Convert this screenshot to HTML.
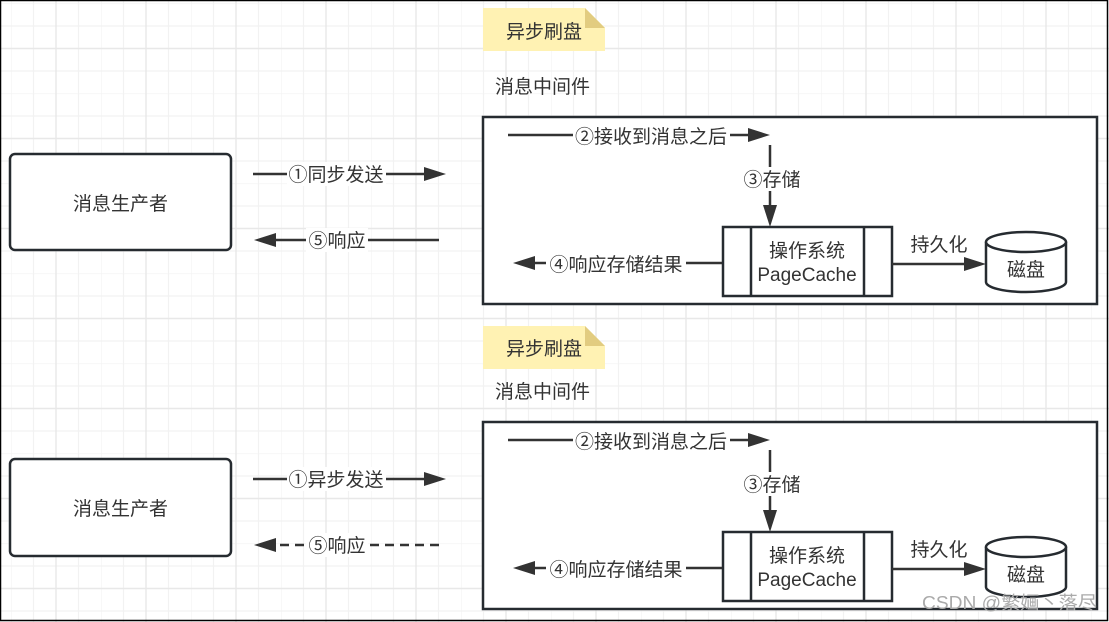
<!DOCTYPE html>
<html><head><meta charset="utf-8"><style>
html,body{margin:0;padding:0;background:#fff}
svg{display:block}
text{font-family:"Liberation Sans","Noto Sans CJK SC",sans-serif;fill:#333}
</style></head><body>
<svg width="1109" height="622" viewBox="0 0 1109 622" xmlns="http://www.w3.org/2000/svg">
<defs>
<pattern id="g" patternUnits="userSpaceOnUse" x="11" y="3.5" width="90" height="90">
<path d="M0 0V90M22.5 0V90M67.5 0V90M0 0H90M0 22.5H90M0 67.5H90" stroke="#f2f2f2" stroke-width="1.2" fill="none"/>
<path d="M45 0V90M0 45H90" stroke="#e8e8e8" stroke-width="1.4" fill="none"/>
</pattern>
</defs>
<rect width="1109" height="622" fill="url(#g)"/>
<rect x="0.5" y="0.5" width="1107" height="620" fill="none" stroke="#000" stroke-width="1.5"/>

<g id="p1">
<path d="M483 8H585L605 28V51H483Z" fill="#fff2b3"/>
<path d="M585 8L605 28H585Z" fill="#e2cc80"/>
<text x="544" y="38" font-size="19" text-anchor="middle">异步刷盘</text>
<text x="495" y="93" font-size="19">消息中间件</text>
<rect x="483" y="117" width="614" height="187" fill="#fff" stroke="#262b30" stroke-width="2.5"/>
<rect x="10" y="154" width="221" height="96" rx="5" fill="#fff" stroke="#262b30" stroke-width="2.5"/>
<text x="120.5" y="210" font-size="19" text-anchor="middle">消息生产者</text>
<line x1="253" y1="174" x2="428" y2="174" stroke="#333" stroke-width="2.5"/>
<path d="M446 174L424 167V181Z" fill="#333"/>
<rect x="287" y="162" width="99" height="24" fill="#fff"/>
<text x="336" y="181" font-size="19" text-anchor="middle">①同步发送</text>
<line x1="508" y1="135" x2="752" y2="135" stroke="#333" stroke-width="2.5"/>
<path d="M770 135L748 128V142Z" fill="#333"/>
<rect x="573" y="123" width="157" height="24" fill="#fff"/>
<text x="651" y="143" font-size="19" text-anchor="middle">②接收到消息之后</text>
<line x1="770" y1="145" x2="770" y2="210" stroke="#333" stroke-width="2.5"/>
<path d="M770 227L763 205H777Z" fill="#333"/>
<rect x="741" y="167" width="62" height="24" fill="#fff"/>
<text x="772" y="186" font-size="19" text-anchor="middle">③存储</text>
<rect x="723" y="227" width="169" height="69" fill="#fff" stroke="#262b30" stroke-width="2.5"/>
<line x1="751" y1="227" x2="751" y2="296" stroke="#262b30" stroke-width="2.5"/>
<line x1="864" y1="227" x2="864" y2="296" stroke="#262b30" stroke-width="2.5"/>
<text x="807" y="257" font-size="19" text-anchor="middle">操作系统</text>
<text x="807" y="281" font-size="19" text-anchor="middle">PageCache</text>
<line x1="722" y1="263" x2="530" y2="263" stroke="#333" stroke-width="2.5"/>
<path d="M513 263L535 256V270Z" fill="#333"/>
<rect x="546" y="251" width="140" height="24" fill="#fff"/>
<text x="616" y="271" font-size="19" text-anchor="middle">④响应存储结果</text>
<line x1="892" y1="264" x2="968" y2="264" stroke="#333" stroke-width="2.5"/>
<path d="M986 264L964 257V271Z" fill="#333"/>
<text x="939" y="251" font-size="19" text-anchor="middle">持久化</text>
<path d="M986 242V282A40 10 0 0 0 1066 282V242" fill="#fff" stroke="#262b30" stroke-width="2.5"/>
<ellipse cx="1026" cy="242" rx="40" ry="10" fill="#fff" stroke="#262b30" stroke-width="2.5"/>
<text x="1026" y="276" font-size="19" text-anchor="middle">磁盘</text>
</g>

<line x1="439" y1="240" x2="272" y2="240" stroke="#333" stroke-width="2.5"/>
<path d="M254 240L276 233V247Z" fill="#333"/>
<rect x="306" y="228" width="62" height="24" fill="#fff"/>
<text x="337" y="247" font-size="19" text-anchor="middle">⑤响应</text>

<g transform="translate(0,305)">
<path d="M483 21H585L605 41V64H483Z" fill="#fff2b3"/>
<path d="M585 21L605 41H585Z" fill="#e2cc80"/>
<text x="544" y="50" font-size="19" text-anchor="middle">异步刷盘</text>
<text x="495" y="93" font-size="19">消息中间件</text>
<rect x="483" y="117" width="614" height="187" fill="#fff" stroke="#262b30" stroke-width="2.5"/>
<rect x="10" y="154" width="221" height="97" rx="5" fill="#fff" stroke="#262b30" stroke-width="2.5"/>
<text x="120.5" y="210" font-size="19" text-anchor="middle">消息生产者</text>
<line x1="253" y1="174" x2="428" y2="174" stroke="#333" stroke-width="2.5"/>
<path d="M446 174L424 167V181Z" fill="#333"/>
<rect x="287" y="162" width="99" height="24" fill="#fff"/>
<text x="336" y="181" font-size="19" text-anchor="middle">①异步发送</text>
<line x1="508" y1="135" x2="752" y2="135" stroke="#333" stroke-width="2.5"/>
<path d="M770 135L748 128V142Z" fill="#333"/>
<rect x="573" y="123" width="157" height="24" fill="#fff"/>
<text x="651" y="143" font-size="19" text-anchor="middle">②接收到消息之后</text>
<line x1="770" y1="145" x2="770" y2="210" stroke="#333" stroke-width="2.5"/>
<path d="M770 227L763 205H777Z" fill="#333"/>
<rect x="741" y="167" width="62" height="24" fill="#fff"/>
<text x="772" y="186" font-size="19" text-anchor="middle">③存储</text>
<rect x="723" y="227" width="169" height="69" fill="#fff" stroke="#262b30" stroke-width="2.5"/>
<line x1="751" y1="227" x2="751" y2="296" stroke="#262b30" stroke-width="2.5"/>
<line x1="864" y1="227" x2="864" y2="296" stroke="#262b30" stroke-width="2.5"/>
<text x="807" y="257" font-size="19" text-anchor="middle">操作系统</text>
<text x="807" y="281" font-size="19" text-anchor="middle">PageCache</text>
<line x1="722" y1="263" x2="530" y2="263" stroke="#333" stroke-width="2.5"/>
<path d="M513 263L535 256V270Z" fill="#333"/>
<rect x="546" y="251" width="140" height="24" fill="#fff"/>
<text x="616" y="271" font-size="19" text-anchor="middle">④响应存储结果</text>
<line x1="892" y1="264" x2="968" y2="264" stroke="#333" stroke-width="2.5"/>
<path d="M986 264L964 257V271Z" fill="#333"/>
<text x="939" y="251" font-size="19" text-anchor="middle">持久化</text>
<path d="M986 242V282A40 10 0 0 0 1066 282V242" fill="#fff" stroke="#262b30" stroke-width="2.5"/>
<ellipse cx="1026" cy="242" rx="40" ry="10" fill="#fff" stroke="#262b30" stroke-width="2.5"/>
<text x="1026" y="276" font-size="19" text-anchor="middle">磁盘</text>
<line x1="439" y1="240" x2="272" y2="240" stroke="#333" stroke-width="2.5" stroke-dasharray="9 6"/>
<path d="M254 240L276 233V247Z" fill="#333"/>
<rect x="306" y="228" width="62" height="24" fill="#fff"/>
<text x="337" y="247" font-size="19" text-anchor="middle">⑤响应</text>
</g>

<text x="922" y="609" font-size="18" textLength="175" lengthAdjust="spacingAndGlyphs" style="fill:#aaa">CSDN @繁婳丶落尽</text>
</svg>
</body></html>
